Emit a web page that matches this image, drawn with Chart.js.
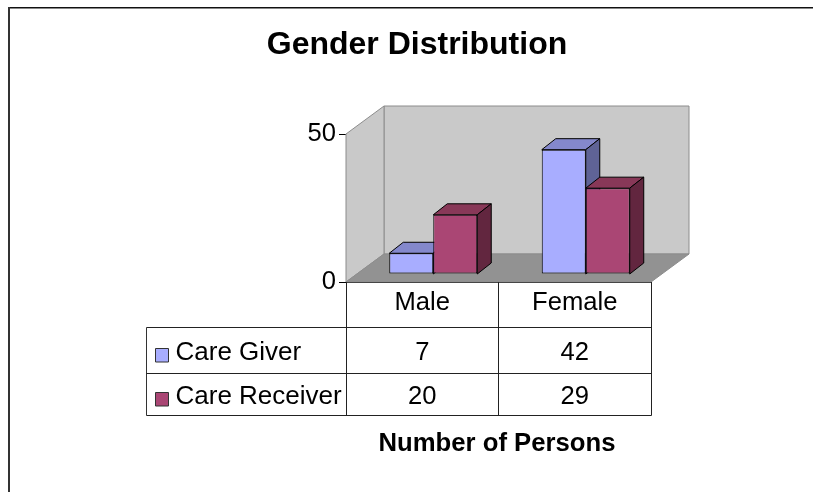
<!DOCTYPE html>
<html>
<head>
<meta charset="utf-8">
<title>Gender Distribution</title>
<script src="https://cdn.jsdelivr.net/npm/chart.js@4"></script>
<style>
  html, body { margin: 0; padding: 0; background: #fff; }
  canvas { display: block; }
</style>
</head>
<body>
<canvas id="barChart" width="813" height="492"></canvas>
<script>
const categories = ["Male", "Female"];
const careGiver = [7, 42];
const careReceiver = [20, 29];
const seriesNames = ["Care Giver", "Care Receiver"];
const titleText = "Gender Distribution";
const xTitleText = "Number of Persons";

const fontName = '"Liberation Sans", Arial, sans-serif';
// front, top and side colours of the bars
const faces = [
  { front: "#a8adff", top: "#8488cc", side: "#5f6396" },
  { front: "#aa4674", top: "#883858", side: "#62263f" },
];

const wallDepth = { x: 38, y: 28 };
const barShift = { x: 11, y: 8 };
const barDepth = { x: 14, y: 11 };

function poly(ctx, pts, fill, stroke) {
  ctx.beginPath();
  ctx.moveTo(pts[0][0], pts[0][1]);
  pts.slice(1).forEach((p) => ctx.lineTo(p[0], p[1]));
  ctx.closePath();
  if (fill) {
    ctx.fillStyle = fill;
    ctx.fill();
  }
  if (stroke) {
    ctx.strokeStyle = stroke;
    ctx.lineWidth = 1;
    ctx.stroke();
  }
}

function line(ctx, x1, y1, x2, y2, color) {
  ctx.beginPath();
  ctx.moveTo(x1, y1);
  ctx.lineTo(x2, y2);
  ctx.strokeStyle = color;
  ctx.lineWidth = 1;
  ctx.stroke();
}

function text(ctx, str, x, y, font, align) {
  ctx.font = font;
  ctx.fillStyle = "#000";
  ctx.textAlign = align || "center";
  ctx.textBaseline = "alphabetic";
  ctx.fillText(str, x, y);
}

const walls = {
  id: "walls",
  beforeDatasetsDraw(chart) {
    const { ctx, chartArea: a } = chart;
    const dx = wallDepth.x;
    const dy = wallDepth.y;
    ctx.save();
    poly(ctx, [[a.left + dx, a.top - dy], [a.right + dx, a.top - dy], [a.right + dx, a.bottom - dy], [a.left + dx, a.bottom - dy]], "#c9c9c9", "#8c8c8c");
    poly(ctx, [[a.left, a.top], [a.left + dx, a.top - dy], [a.left + dx, a.bottom - dy], [a.left, a.bottom]], "#c9c9c9", "#8c8c8c");
    poly(ctx, [[a.left, a.bottom], [a.left + dx, a.bottom - dy], [a.right + dx, a.bottom - dy], [a.right, a.bottom]], "#929292", "#8c8c8c");
    ctx.restore();
  },
  // the library's own pass is skipped so the series go back to front
  beforeDatasetDraw() {
    return false;
  },
  afterDatasetsDraw(chart) {
    const { ctx, scales } = chart;
    const baseShift = scales.y.getPixelForValue(0);
    ctx.save();
    ctx.translate(barShift.x, -barShift.y);
    chart.data.datasets.forEach((ds, i) => {
      chart.getDatasetMeta(i).data.forEach((bar) => {
        const p = bar.getProps(["x", "y", "base", "width"]);
        const l = p.x - p.width / 2;
        const r = p.x + p.width / 2;
        const t = p.y;
        const b = baseShift;
        const dx = barDepth.x;
        const dy = barDepth.y;
        poly(ctx, [[l, t], [l + dx, t - dy], [r + dx, t - dy], [r, t]], faces[i].top, "#000");
        poly(ctx, [[r, t], [r + dx, t - dy], [r + dx, b - dy], [r, b]], faces[i].side, "#000");
        bar.draw(ctx);
      });
    });
    ctx.restore();
  },
  afterDraw(chart) {
    const { ctx, chartArea: a, scales } = chart;
    const x0 = scales.x.getPixelForValue(0);
    const x1 = scales.x.getPixelForValue(1);
    const mid = (x0 + x1) / 2;
    const tableLeft = 146.5;
    const rows = [327.5, 373.5, 415.5];
    const font = "25.6px " + fontName;
    const rowValues = [careGiver, careReceiver];
    ctx.save();

    // outer frame of the picture
    ctx.fillStyle = "#111";
    ctx.fillRect(8, 7, 805, 1.5);
    ctx.fillStyle = "#333";
    ctx.fillRect(8, 7, 2, 485);

    // data table
    [a.left, mid, a.right].forEach((x) => {
      const px = Math.floor(x) + 0.5;
      line(ctx, px, a.bottom, px, rows[2], "#222");
    });
    line(ctx, tableLeft, rows[0], tableLeft, rows[2], "#333");
    rows.forEach((y) => line(ctx, tableLeft, y, Math.floor(a.right) + 0.5, y, "#222"));

    const swatchY = [348, 392];
    const textY = [360, 404];
    seriesNames.forEach((name, i) => {
      poly(ctx, [[155.5, swatchY[i] + 0.5], [168.5, swatchY[i] + 0.5], [168.5, swatchY[i] + 14], [155.5, swatchY[i] + 14]], faces[i].front, "#333");
      text(ctx, name, 175.5, textY[i], "26px " + fontName, "left");
      rowValues[i].forEach((v, j) => {
        text(ctx, String(v), scales.x.getPixelForValue(j), textY[i], font);
      });
    });

    text(ctx, titleText, 417, 54, "bold 32px " + fontName);
    text(ctx, xTitleText, 497, 451, "bold 25.7px " + fontName);
    ctx.restore();
  },
};

const chart = new Chart(document.getElementById("barChart"), {
  type: "bar",
  data: {
    labels: categories,
    datasets: [
      { label: seriesNames[0], data: careGiver, backgroundColor: faces[0].front },
      { label: seriesNames[1], data: careReceiver, backgroundColor: faces[1].front },
    ],
  },
  options: {
    responsive: false,
    animation: false,
    layout: { padding: { top: 134, right: 162, bottom: 165, left: 0 } },
    datasets: {
      bar: {
        categoryPercentage: 0.577,
        barPercentage: 1,
        borderColor: "#000",
        borderWidth: 1,
        borderSkipped: false,
      },
    },
    plugins: {
      legend: { display: false },
      title: { display: false },
      tooltip: { enabled: false },
    },
    scales: {
      x: {
        afterFit: (s) => { s.height = 45; },
        grid: { display: false },
        border: { display: true, color: "#000", width: 1 },
        ticks: { color: "#000", font: { family: fontName, size: 25.6 }, padding: -2, maxRotation: 0 },
      },
      y: {
        min: 0,
        max: 50,
        afterFit: (s) => { s.width = 346; },
        grid: { drawOnChartArea: false, drawTicks: true, tickLength: 7, color: "#000" },
        border: { display: true, color: "#000", width: 1 },
        ticks: { stepSize: 50, color: "#000", font: { family: fontName, size: 25.6 }, padding: 3 },
      },
    },
  },
  plugins: [walls],
});
</script>
</body>
</html>
